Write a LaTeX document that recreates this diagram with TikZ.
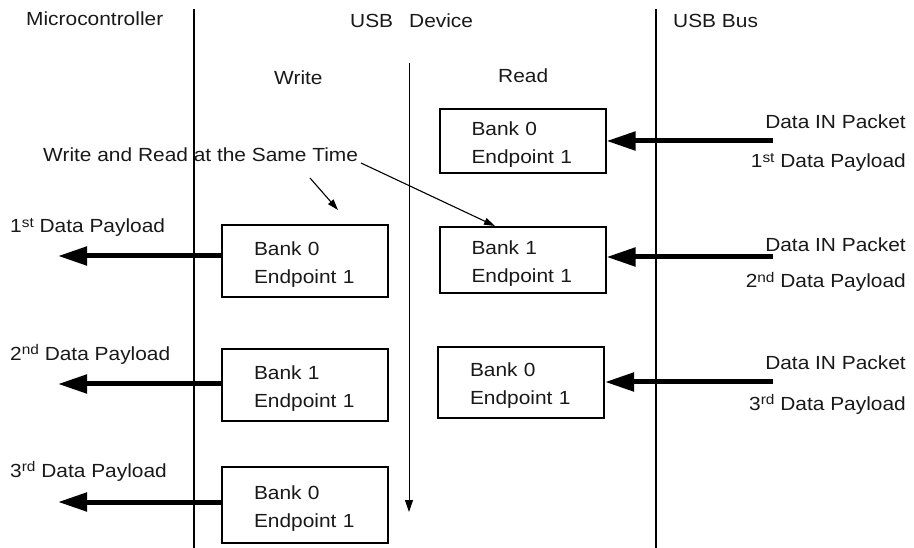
\documentclass[tikz,border=0pt]{standalone}
\usepackage{fontspec}
\setmainfont{Liberation Sans}[FakeStretch=1.1]
\usetikzlibrary{arrows.meta}
\newcommand\supx[1]{\raisebox{5.5pt}{\fontsize{14}{14}\selectfont #1}}
\newcommand\bxstrut{\rule{0pt}{20pt}}
\begin{document}
\begin{tikzpicture}[x=1pt,y=-1pt,
  every node/.style={font=\fontsize{19}{28}\selectfont, text=black!90, inner sep=0pt},
  lbl/.style={anchor=base west},
  rlbl/.style={anchor=base east},
  bankbox/.style={draw, line width=2pt, align=left, inner xsep=32pt, inner ysep=0pt, text width=102pt},
  bigarrow/.style={line width=5pt, -{Triangle[length=29pt,width=18pt]}},
  thinarrow/.style={line width=1.1pt, -{Triangle[length=11pt,width=7pt]}},
  sepline/.style={line width=2.4pt},
  midline/.style={line width=1pt, -{Triangle[length=12pt,width=8pt]}}
]
\useasboundingbox (0,0) rectangle (914,548);

% separators
\coordinate (s1t) at (194,9);   \coordinate (s1b) at (194,548);
\coordinate (s2t) at (656,9);   \coordinate (s2b) at (656,548);
\coordinate (mt) at (409,63);   \coordinate (mb) at (409,512);
\draw[sepline] (s1t) -- (s1b);
\draw[sepline] (s2t) -- (s2b);
\draw[midline] (mt) -- (mb);

% headings
\node[lbl] (hmc) at (26,26) {Microcontroller};
\node[lbl] (hdev) at (350,28) {USB\hskip 16pt Device};
\node[lbl] (hbus) at (673,28) {USB Bus};
\node[lbl] (hw) at (274,85) {Write};
\node[lbl] (hr) at (498,83) {Read};
\node[lbl] (same) at (43,162) {Write and Read at the Same Time};

% write boxes
\node[bankbox, minimum width=166pt, minimum height=72pt] (wa) at (305,261) {\bxstrut Bank 0\\Endpoint 1};
\node[bankbox, minimum width=166pt, minimum height=72pt] (wb) at (305,385) {\bxstrut Bank 1\\Endpoint 1};
\node[bankbox, minimum width=166pt, minimum height=76pt] (wc) at (305,505) {\bxstrut Bank 0\\Endpoint 1};

% read boxes
\node[bankbox, minimum width=165pt, minimum height=64pt] (r1) at (522.5,141) {\bxstrut Bank 0\\Endpoint 1};
\node[bankbox, minimum width=165pt, minimum height=66pt] (r2) at (522.5,260) {\bxstrut Bank 1\\Endpoint 1};
\node[bankbox, minimum width=164pt, minimum height=71pt] (r3) at (521,382.5) {\bxstrut Bank 0\\Endpoint 1};

% small arrows
\coordinate (t1s) at (310,178); \coordinate (t1e) at (338,210);
\coordinate (t2s) at (361,163); \coordinate (t2e) at (495,226);
\draw[thinarrow] (t1s) -- (t1e);
\draw[thinarrow] (t2s) -- (t2e);

% left labels and arrows
\node[lbl] (lp1) at (10,233) {1\supx{st} Data Payload};
\node[lbl] (lp2) at (10,360) {2\supx{nd} Data Payload};
\node[lbl] (lp3) at (10,477) {3\supx{rd} Data Payload};
\coordinate (la1) at (58,256);
\coordinate (la2) at (58,384);
\coordinate (la3) at (58,502);
\draw[bigarrow] (wa.west |- la1) -- (la1);
\draw[bigarrow] (wb.west |- la2) -- (la2);
\draw[bigarrow] (wc.west |- la3) -- (la3);

% right labels and arrows
\node[rlbl] (rk1) at (906,129) {Data IN Packet};
\node[rlbl] (rp1) at (906,168) {1\supx{st} Data Payload};
\node[rlbl] (rk2) at (906,252) {Data IN Packet};
\node[rlbl] (rp2) at (906,288) {2\supx{nd} Data Payload};
\node[rlbl] (rk3) at (906,370) {Data IN Packet};
\node[rlbl] (rp3) at (906,410) {3\supx{rd} Data Payload};
\coordinate (ra1) at (773,141);
\coordinate (ra2) at (773,257);
\coordinate (ra3) at (773,382);
\draw[bigarrow] (ra1) -- (ra1 -| r1.east);
\draw[bigarrow] (ra2) -- (ra2 -| r2.east);
\draw[bigarrow] (ra3) -- (ra3 -| r3.east);
\end{tikzpicture}
\end{document}
